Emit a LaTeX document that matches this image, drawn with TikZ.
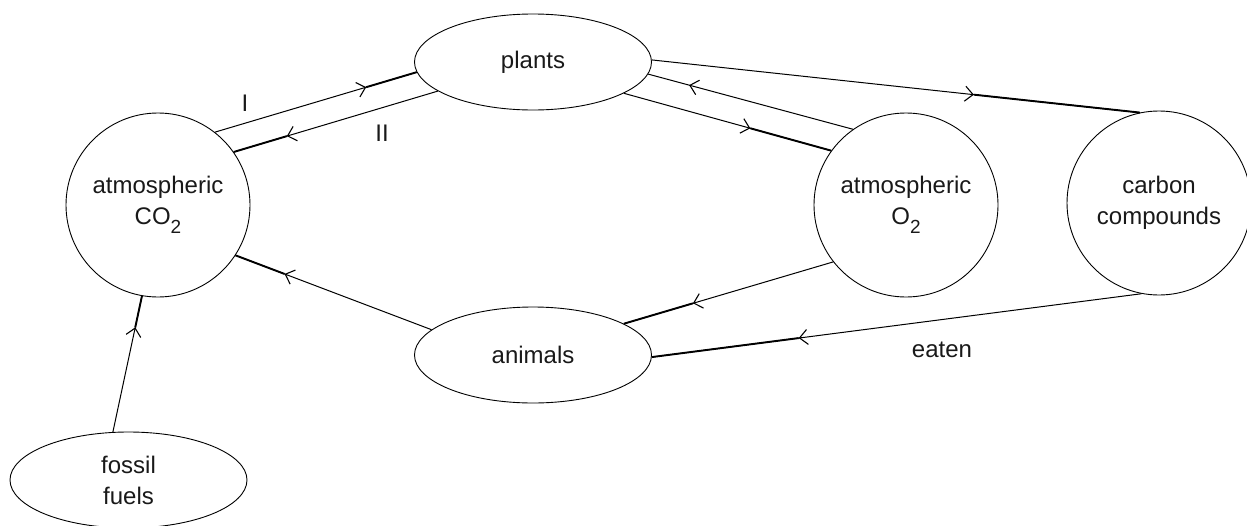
\documentclass[tikz,border=0pt]{standalone}
\usepackage{fontspec}
\setmainfont{Liberation Sans}
\usetikzlibrary{shapes.geometric,decorations.markings,arrows.meta}
\newcommand\subtwo{\raisebox{-9pt}{\fontsize{19}{19}\selectfont 2}}
\begin{document}
\begin{tikzpicture}[x=1pt,y=-1pt,
 lbl/.style={font=\fontsize{24}{31}\selectfont, text=black!90},
 circ/.style={circle,draw,line width=0.9pt,minimum size=184pt,inner sep=0pt,align=center,lbl},
 ell/.style={ellipse,draw,line width=0.9pt,minimum width=237pt,minimum height=96pt,inner sep=0pt,align=center,lbl},
 conn/.style={line width=1pt},
 heavy/.style={line width=1.9pt},
 flow/.style={postaction={decorate},decoration={markings,mark=at position #1 with {\arrow[line width=1.1pt]{Straight Barb[length=8pt,width=15pt]}}}}
]
\useasboundingbox (0,0) rectangle (1247,525);
\node[ell]  (plants)  at (533,62)   {plants};
\node[ell]  (animals) at (533,355)  {animals};
\node[ell]  (fossil)  at (128.5,480) {fossil\\fuels};
\node[circ] (co2)     at (158,205)  {atmospheric\\CO\subtwo};
\node[circ] (o2)      at (906,205)  {atmospheric\\O\subtwo};
\node[circ] (cc)      at (1159,203) {carbon\\compounds};

% I : CO2 -> plants
\draw[conn,flow=0.75] (co2.52) -- coordinate[pos=0.75] (m1) (plants.185);
\draw[heavy] (m1) -- (plants.185);
% II : plants -> CO2
\draw[conn,flow=0.74] (plants.197) -- coordinate[pos=0.74] (m2) (co2.35);
\draw[heavy] (m2) -- (co2.35);
% O2 -> plants
\draw[conn,flow=0.8] (o2.125) -- (plants.-6);
% plants -> O2
\draw[conn,flow=0.61] (plants.-19) -- coordinate[pos=0.61] (m3) (o2.144);
\draw[heavy] (m3) -- (o2.144);
% plants -> carbon compounds
\draw[conn,flow=0.66] (plants.1.4) -- coordinate[pos=0.66] (m4) (cc.102);
\draw[heavy] (m4) -- (cc.102);
% animals -> CO2
\draw[conn,flow=0.75] (animals.166) -- coordinate[pos=0.75] (m5) (co2.-33);
\draw[heavy] (m5) -- (co2.-33);
% O2 -> animals
\draw[conn,flow=0.67] (o2.218) -- coordinate[pos=0.67] (m6) (animals.19);
\draw[heavy] (m6) -- (animals.19);
% carbon compounds -> animals (eaten)
\draw[conn,flow=0.70] (cc.259) -- coordinate[pos=0.70] (m7) (animals.-1);
\draw[heavy] (m7) -- (animals.-1);
% fossil fuels -> CO2
\draw[conn,flow=0.77] (fossil.108) -- coordinate[pos=0.77] (m8) (co2.-100);
\draw[heavy] (m8) -- (co2.-100);

\node[lbl] (lI)  at (245,103) {I};
\node[lbl] (lII) at (382,133) {II};
\node[lbl] (leaten) at (942,350) {eaten};
\end{tikzpicture}
\end{document}
